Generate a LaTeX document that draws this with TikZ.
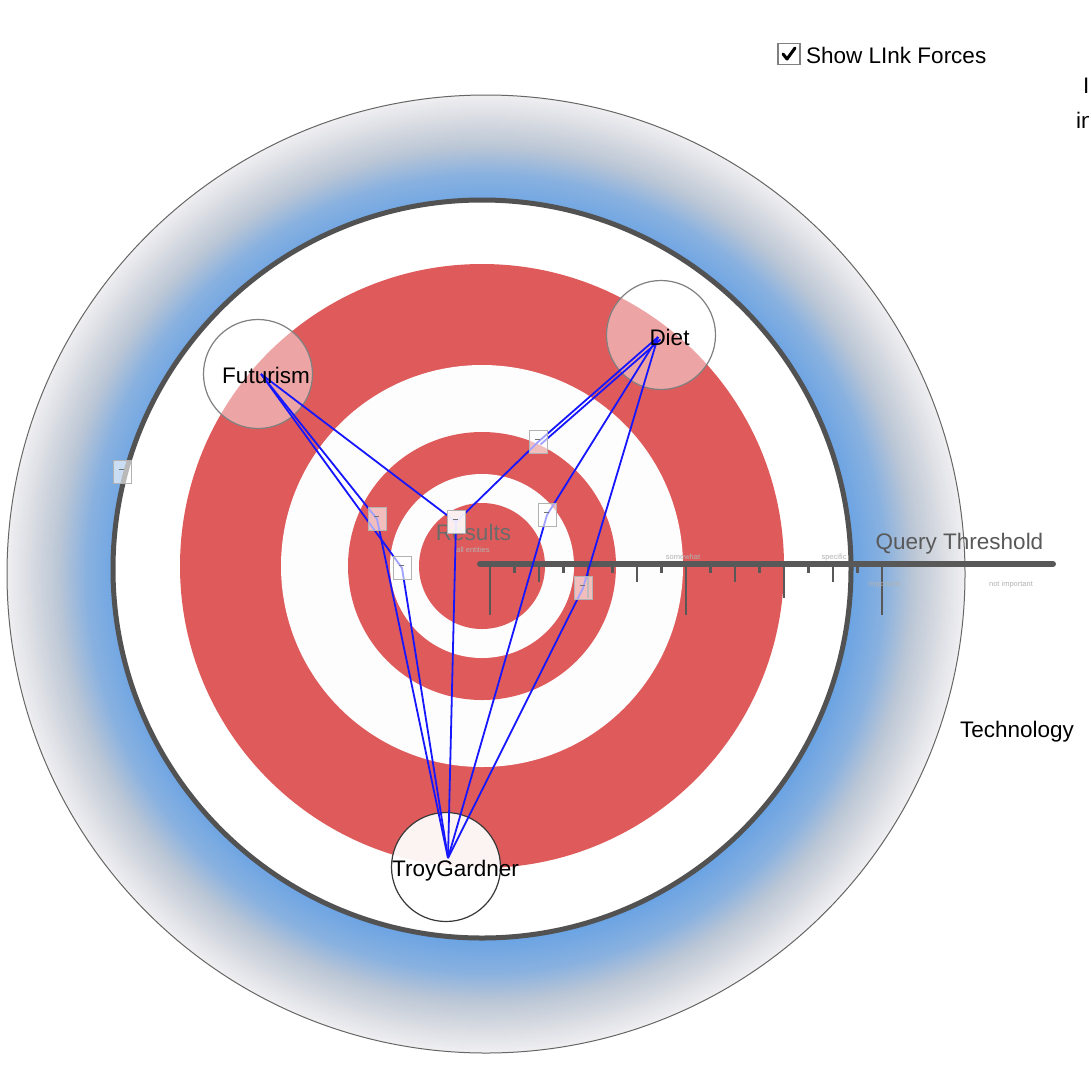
\documentclass[tikz,border=0pt]{standalone}
\usepackage{fontspec}
\setmainfont{Liberation Sans}
\definecolor{tred}{RGB}{223,91,91}
\definecolor{twhite}{RGB}{253,253,253}
\definecolor{axisgrey}{RGB}{88,88,88}
\definecolor{linkblue}{RGB}{22,22,255}
% piecewise-linear channel: stops at s = 0, .3, .55, .8, 1
\newcommand\ringchan[6]{%
  \pgfmathtruncatemacro#1{\s<0.3 ? #2+(#3-#2)*\s/0.3 : (\s<0.55 ? #3+(#4-#3)*(\s-0.3)/0.25 : (\s<0.8 ? #4+(#5-#4)*(\s-0.55)/0.25 : #5+(#6-#5)*(\s-0.8)/0.2))}}
\begin{document}
\begin{tikzpicture}[x=1pt,y=-1pt,
  lbl/.style={font=\fontsize{22.5}{26}\selectfont, inner sep=0pt, anchor=base},
  tiny/.style={font=\fontsize{7.5}{9}\selectfont, text=black!30, inner sep=0pt, anchor=base},
  entity/.style={circle, draw=black!50, line width=1.2pt, fill=white, fill opacity=0.45, minimum size=109pt, inner sep=0pt},
  link/.style={draw=linkblue, line width=1.8pt, line join=round},
  handle/.style={draw=black!30, line width=1pt, fill=white, fill opacity=0.6, minimum width=18pt, minimum height=23pt, inner sep=0pt,
    path picture={\draw[black!55, line width=0.8pt] ([xshift=-3pt,yshift=3pt]path picture bounding box.center) -- ++(5pt,0pt);}},
]
\useasboundingbox (0,0) rectangle (1089,1080);
\fill[white] (0,0) rectangle (1089,1080);

% gradient ring
\foreach \k in {0,...,110}{
  \pgfmathsetmacro\s{1-\k/110}
  \ringchan\ringR{108}{138}{188}{218}{240}
  \ringchan\ringG{164}{178}{199}{221}{240}
  \ringchan\ringB{228}{224}{214}{227}{243}
  \pgfmathsetmacro\rad{366+113*\s}
  \definecolor{ringc}{RGB}{\ringR,\ringG,\ringB}
  \fill[ringc] (486,574) circle[radius=\rad pt];
}
\draw[black!60, line width=1pt] (486,574) circle[radius=479pt];

% inner white field with dark rim
\draw[draw=black!68, line width=5pt, fill=white] (482,569) circle[radius=369pt];

% target
\fill[tred] (482,566) circle[radius=302pt];
\fill[twhite] (482,566) circle[radius=201pt];
\fill[tred] (482,566) circle[radius=134pt];
\fill[twhite] (482,566) circle[radius=92pt];
\fill[tred] (482,566) circle[radius=63pt];

% results label
\node[lbl, text=black!58] (resT) at (473.5,540) {Results};
\node[tiny] (resSub) at (473,552) {all entities};

% query threshold axis
\draw[axisgrey, line width=6pt, line cap=round] (480,564) -- (1053,564);
\foreach \i in {0,...,16}{
  \pgfmathsetmacro\tx{490+24.5*\i}
  \pgfmathsetmacro\tl{mod(\i,8)==0 ? 51 : (mod(\i,4)==0 ? 34 : (mod(\i,2)==0 ? 18 : 9))}
  \draw[axisgrey, line width=2.2pt] (\tx,564) -- (\tx,564+\tl);
}
\node[tiny] (tsome) at (683,559) {somewhat};
\node[tiny] (tspec) at (834,559) {specific};
\node[tiny] (timp) at (884,586) {important};
\node[tiny] (tnot) at (1011,586) {not important};
\node[lbl, text=black!65] (qt) at (959.5,549) {Query Threshold};

% entity circles
\node[entity] (fut) at (258,374) {};
\node[entity] (diet) at (661,335) {};
\node[entity, fill opacity=0.93, draw=black!78] (troy) at (446,867) {};

\coordinate (futA) at (261,374);
\coordinate (dietA) at (658,337);
\coordinate (troyA) at (448,858);

% link handles (positions)
\node[handle, draw=none, fill=none, path picture={}] (h1) at (538,442) {};
\node[handle, draw=none, fill=none, path picture={}] (h2) at (547,515) {};
\node[handle, draw=none, fill=none, path picture={}] (h3) at (583,588) {};
\node[handle, draw=none, fill=none, path picture={}] (h4) at (377,519) {};
\node[handle, draw=none, fill=none, path picture={}] (h5) at (402,568) {};
\node[handle, draw=none, fill=none, path picture={}] (hr) at (456,522) {};

% links
\draw[link] (futA) -- (hr.center);
\draw[link] (futA) -- (h4.center) -- (troyA);
\draw[link] (futA) -- (h5.center) -- (troyA);
\draw[link] (hr.center) -- (troyA);
\draw[link] (dietA) -- (h1.center) -- (hr.center);
\draw[link] ([shift={(2.5,2.5)}]dietA) -- ([shift={(2.5,2.5)}]h1.center);
\draw[link] (dietA) -- (h2.center) -- (troyA);
\draw[link] (dietA) -- (h3.center) -- (troyA);

% visible handles
\node[handle] (h1v) at (h1) {};
\node[handle] (h2v) at (h2) {};
\node[handle] (h3v) at (h3) {};
\node[handle] (h4v) at (h4) {};
\node[handle] (h5v) at (h5) {};
\node[handle, fill opacity=0.9] (hrv) at (hr) {};
\node[handle] (hl) at (122,472) {};

% entity labels
\node[lbl] (futT) at (266,383) {Futurism};
\node[lbl] (dietT) at (669.5,345) {Diet};
\node[lbl] (troyT) at (455.5,876) {TroyGardner};
\node[lbl] (tech) at (1017,737) {Technology};

% checkbox
\node[draw=black!50, line width=1.2pt, fill=white, minimum width=22pt, minimum height=21pt, inner sep=0pt] (cb) at (789,54) {};
\draw[line width=3pt, line join=round, line cap=round] ([shift={(-6,0)}]cb.center) -- ([shift={(-2,5)}]cb.center) -- ([shift={(6,-6)}]cb.center);
\node[lbl, anchor=base west] (show) at (806,63) {Show LInk Forces};

% text cut by the right edge, as in the reference
\node[lbl, anchor=base west] (cut1) at (1083,93) {I};
\node[lbl, anchor=base west] (cut2) at (1076,128) {in};
\end{tikzpicture}
\end{document}
